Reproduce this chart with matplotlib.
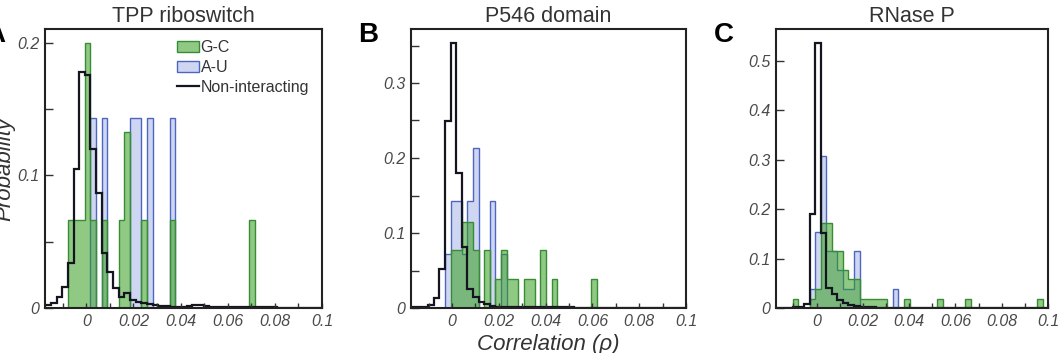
import numpy as np
import matplotlib
matplotlib.use("Agg")
import matplotlib.pyplot as plt
from matplotlib.ticker import MultipleLocator

plt.rcParams['font.family'] = ['Liberation Sans', 'DejaVu Sans']

# histogram bins (correlation), 50 bins
bin_edges = 0.0018 + 0.0024 * np.arange(-9, 42)

# ---- TPP riboswitch ----
tpp_noninter = [0.001, 0.0025, 0.004, 0.008, 0.016, 0.034, 0.105, 0.178, 0.176, 0.120,
                0.087, 0.0415, 0.027, 0.015, 0.0083, 0.011, 0.006, 0.0045, 0.004, 0.003,
                0.002, 0.0015, 0.0015, 0.001, 0.001, 0.001, 0.0015, 0.002, 0.002, 0.0015,
                0.001, 0.001, 0.0008, 0.0008, 0.0008, 0.001, 0.0008, 0.0005, 0.0005, 0.0005,
                0.0005, 0.0005, 0.0003, 0.0003, 0.0003, 0.0003, 0.0002, 0.0002, 0.0002, 0.0002]
tpp_gc = [0, 0, 0, 0, 0, 0.0667, 0.0667, 0.0667, 0.2, 0.0667,
          0, 0.0667, 0, 0, 0.0667, 0.133, 0, 0, 0.0667, 0,
          0, 0, 0, 0.0667, 0, 0, 0, 0, 0, 0,
          0, 0, 0, 0, 0, 0, 0, 0.0667, 0, 0,
          0, 0, 0, 0, 0, 0, 0, 0, 0, 0]
tpp_au = [0, 0, 0, 0, 0, 0, 0, 0, 0, 0.143,
          0, 0.143, 0, 0, 0, 0, 0.143, 0.143, 0, 0.143,
          0, 0, 0, 0.143, 0, 0, 0, 0, 0, 0,
          0, 0, 0, 0, 0, 0, 0, 0, 0, 0,
          0, 0, 0, 0, 0, 0, 0, 0, 0, 0]

# ---- P546 domain ----
p546_noninter = [0.001, 0.001, 0.001, 0.002, 0.004, 0.013, 0.052, 0.25, 0.353, 0.18,
                 0.082, 0.026, 0.015, 0.008, 0.005, 0.003, 0.002, 0.0015, 0.001, 0.001,
                 0.0008, 0.0008, 0.0008, 0.0008, 0.0008, 0.0008, 0.0008, 0.0008, 0.0008, 0.0008,
                 0.0005, 0.0005, 0.0005, 0.0005, 0.0005, 0.0005, 0.0005, 0.0005, 0.0005, 0.0005,
                 0.0004, 0.0004, 0.0004, 0.0004, 0.0004, 0.0004, 0.0004, 0.0004, 0.0004, 0.0004]
p546_gc = [0, 0, 0, 0, 0, 0, 0, 0, 0.077, 0.077,
           0.115, 0.115, 0.077, 0, 0.077, 0, 0.0385, 0.077, 0.0385, 0.0385,
           0, 0.0385, 0.0385, 0, 0.077, 0, 0.0385, 0, 0, 0,
           0, 0, 0, 0.0385, 0, 0, 0, 0, 0, 0,
           0, 0, 0, 0, 0, 0, 0, 0, 0, 0]
p546_au = [0, 0, 0, 0, 0, 0, 0, 0.0714, 0.143, 0.143,
           0.0714, 0.143, 0.214, 0, 0, 0.143, 0, 0.0714, 0, 0,
           0, 0, 0, 0, 0, 0, 0, 0, 0, 0,
           0, 0, 0, 0, 0, 0, 0, 0, 0, 0,
           0, 0, 0, 0, 0, 0, 0, 0, 0, 0]

# ---- RNase P ----
rnasep_noninter = [0, 0.0005, 0.001, 0.001, 0.0015, 0.003, 0.009, 0.19, 0.536, 0.151,
                   0.04, 0.028, 0.017, 0.01, 0.007, 0.005, 0.003, 0.002, 0.0015, 0.001,
                   0.001, 0.0008, 0.0008, 0.0006, 0.0006, 0.0005, 0.0005, 0.0005, 0.0004, 0.0004,
                   0.0004, 0.0003, 0.0003, 0.0003, 0.0003, 0.0002, 0.0002, 0.0002, 0.0002, 0.0002,
                   0.0002, 0.0001, 0.0001, 0.0001, 0.0001, 0.0001, 0.0001, 0.0001, 0.0001, 0.0001]
rnasep_gc = [0, 0, 0, 0, 0.019, 0, 0, 0.019, 0.038, 0.173,
             0.173, 0.115, 0.115, 0.077, 0.058, 0.058, 0.019, 0.019, 0.019, 0.019,
             0.019, 0, 0, 0, 0.019, 0, 0, 0, 0, 0,
             0.019, 0, 0, 0, 0, 0.019, 0, 0, 0, 0,
             0, 0, 0, 0, 0, 0, 0, 0, 0.019, 0]
rnasep_au = [0, 0, 0, 0, 0, 0, 0, 0.0385, 0.154, 0.308,
             0.115, 0.115, 0.077, 0.0385, 0.0385, 0.115, 0, 0, 0, 0,
             0, 0, 0.0385, 0, 0, 0, 0, 0, 0, 0,
             0, 0, 0, 0, 0, 0, 0, 0, 0, 0,
             0, 0, 0, 0, 0, 0, 0, 0, 0, 0]

titles = ["TPP riboswitch", "P546 domain", "RNase P"]
panel_letters = ["A", "B", "C"]
series_names = ["G-C", "A-U", "Non-interacting"]
xtick_vals = [0, 0.02, 0.04, 0.06, 0.08, 0.1]
xtick_text = ["0", "0.02", "0.04", "0.06", "0.08", "0.1"]
ytick_vals = [[0, 0.1, 0.2], [0, 0.1, 0.2, 0.3], [0, 0.1, 0.2, 0.3, 0.4, 0.5]]
ytick_text = [["0", "0.1", "0.2"], ["0", "0.1", "0.2", "0.3"],
              ["0", "0.1", "0.2", "0.3", "0.4", "0.5"]]
ylims = [0.2105, 0.372, 0.565]

data = [(tpp_gc, tpp_au, tpp_noninter),
        (p546_gc, p546_au, p546_noninter),
        (rnasep_gc, rnasep_au, rnasep_noninter)]

W, H = 1059, 353
fig = plt.figure(figsize=(W / 100, H / 100), dpi=100)
ax_px = [(45, 322), (411, 686), (776, 1048)]
top_px, bot_px = 29, 308

green_face = (0.2, 0.62, 0.12, 0.55)
green_edge = (0.22, 0.55, 0.2)
blue_face = (0.45, 0.55, 0.85, 0.35)
blue_edge = (0.3, 0.4, 0.75)
line_col = "#15151f"
text_col = "#4a4a4a"

for i, (gc, au, non) in enumerate(data):
    l, r = ax_px[i]
    ax = fig.add_axes([l / W, 1 - bot_px / H, (r - l) / W, (bot_px - top_px) / H])
    ax.stairs(au, bin_edges, fill=True, facecolor=blue_face, edgecolor=blue_edge,
              linewidth=1.0, label=series_names[1])
    ax.stairs(gc, bin_edges, fill=True, facecolor=green_face, edgecolor=green_edge,
              linewidth=1.0, label=series_names[0])
    ax.stairs(non, bin_edges, color=line_col, linewidth=1.6, label=series_names[2])

    ax.set_xlim(-0.0175, 0.1)
    ax.set_ylim(0, ylims[i])
    ax.set_xticks(xtick_vals)
    ax.set_xticklabels(xtick_text, fontsize=11.5, style="italic", color=text_col)
    ax.set_yticks(ytick_vals[i])
    ax.set_yticklabels(ytick_text[i], fontsize=11.5, style="italic", color=text_col)
    ax.xaxis.set_minor_locator(MultipleLocator(0.01))
    if i < 2:
        ax.yaxis.set_minor_locator(MultipleLocator(0.05))
    ax.tick_params(which="both", direction="in", top=False, right=False,
                   color="#333333", width=1.0)
    ax.tick_params(axis="y", which="both", length=5.5, pad=4)
    ax.tick_params(axis="x", which="both", length=3.5, pad=4)
    for sp in ax.spines.values():
        sp.set_linewidth(1.5)
        sp.set_color("#222222")

    ax.set_title(titles[i], fontsize=15.5, color="#333333", pad=5)

    if i == 0:
        h, lab = ax.get_legend_handles_labels()
        order = [1, 0, 2]
        ax.legend([h[j] for j in order], [lab[j] for j in order],
                  loc="upper left", bbox_to_anchor=(0.478, 0.96),
                  frameon=False, fontsize=11.5, handlelength=1.35,
                  handleheight=0.75, handletextpad=0.1, labelspacing=0.3,
                  borderpad=0, borderaxespad=0, labelcolor="#333333")

# panel letters
fig.text(5 / W, 1 - 42 / H, "A", ha="right", va="baseline", fontsize=20, fontweight="bold")
fig.text(358 / W, 1 - 42 / H, "B", ha="left", va="baseline", fontsize=20, fontweight="bold")
fig.text(714 / W, 1 - 42 / H, "C", ha="left", va="baseline", fontsize=20, fontweight="bold")

# axis labels
fig.text(5 / W, 1 - 168.5 / H, "Probability", rotation=90, ha="center", va="center",
         style="italic", fontsize=16, color="#333333")
fig.text(548.5 / W, 1 - 350 / H, "Correlation (ρ)", ha="center", va="baseline",
         style="italic", fontsize=16, color="#333333")

fig.savefig("out.png", dpi=100)
